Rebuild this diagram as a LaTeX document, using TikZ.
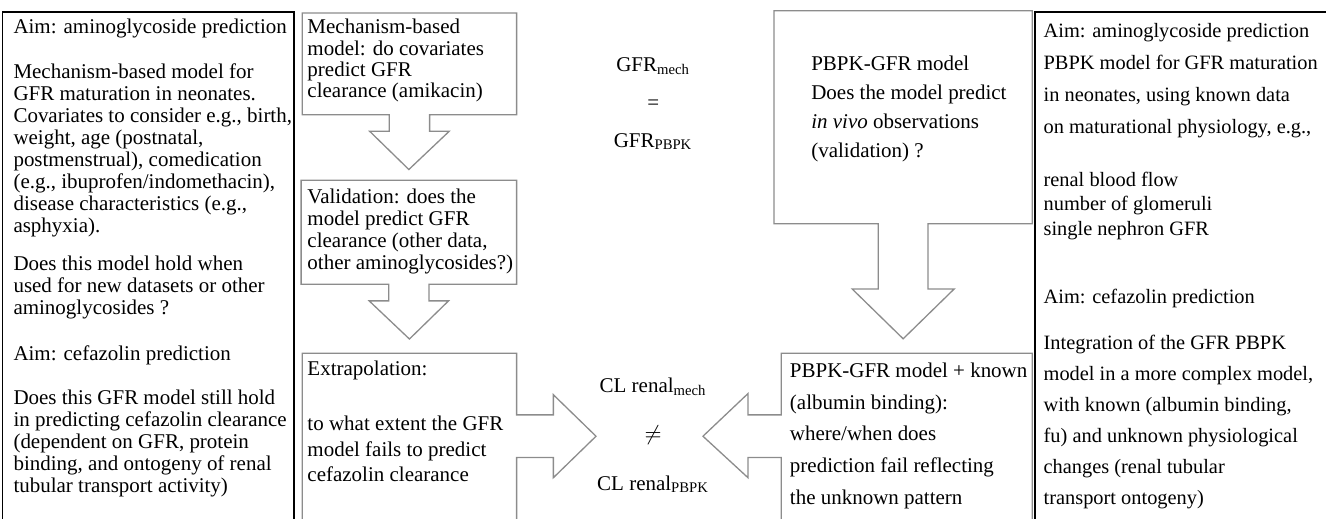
\documentclass[tikz,border=0pt]{standalone}
\usepackage{fontspec}
\setmainfont{Liberation Serif}
\usetikzlibrary{calc}
\definecolor{boxgray}{HTML}{8C8C8C}

\begin{document}
\begin{tikzpicture}[x=0.5pt,y=-0.5pt,
   boxline/.style={draw=boxgray,line width=0.55pt},
   panel/.style={draw=black,line width=0.7pt},
   area/.style={rectangle,inner sep=0pt,anchor=north west},
   txt/.style={anchor=base west,inner sep=0pt,align=left,font={\fontsize{8.85}{#1}\selectfont\lineskiplimit=-\maxdimen}},
   txt/.default=9.25pt,
   rtxt/.style={anchor=base west,inner sep=0pt,align=left,font={\fontsize{8.6}{#1}\selectfont\lineskiplimit=-\maxdimen}},
   rtxt/.default=13.5pt,
   eq/.style={anchor=base,inner sep=0pt,font=\fontsize{8.85}{10}\selectfont}]
  \useasboundingbox (0,0) rectangle (1118.6,437);
  \clip (0,0) rectangle (1118.6,437);
  % box areas
  \node[area,minimum width=122.5pt,minimum height=260pt] (mechpanel) at (2,10) {};
  \node[area,minimum width=90pt,minimum height=42.5pt] (mech) at (255,11) {};
  \node[area,minimum width=90.5pt,minimum height=43.5pt] (valid) at (254,152) {};
  \node[area,minimum width=90pt,minimum height=115pt] (extrap) at (255,298) {};
  \node[area,minimum width=108.5pt,minimum height=89.5pt] (pbpk) at (653,9) {};
  \node[area,minimum width=105.5pt,minimum height=115pt] (known) at (659,298) {};
  \node[area,minimum width=230pt,minimum height=260pt] (pbpkpanel) at (873,10) {};
  % side panels
  \draw[panel] (mechpanel.south west) |- (mechpanel.north east) -- (mechpanel.south east);
  \draw[panel] (pbpkpanel.south west) |- (pbpkpanel.north east) -- (pbpkpanel.south east);
  % boxes with block arrows
  \draw[boxline] ($(mech.south)+(-17,0)$) -- (mech.south west) |- (mech.north east) -- (mech.south east) -- ($(mech.south)+(17,0)$) -- ++(0,14) -- ++(16.5,0) -- ($(valid.north)+(0,-9)$) -- ($(mech.south)+(-33.5,14)$) -- ++(16.5,0) -- cycle;
  \draw[boxline] ($(valid.south)+(-17,0)$) -- (valid.south west) |- (valid.north east) -- (valid.south east) -- ($(valid.south)+(17,0)$) -- ++(0,14) -- ++(16.5,0) -- ($(extrap.north)+(0,-12)$) -- ($(valid.south)+(-33.5,14)$) -- ++(16.5,0) -- cycle;
  \draw[boxline] (extrap.south west) |- (extrap.north east) -- ++(0,52) -- ++(31,0) -- ++(0,-17) -- ++(36,35) -- ++(-36,35) -- ++(0,-17) -- ++(-31,0) -- (extrap.south east);
  \draw[boxline] ($(pbpk.south)+(-21,0)$) -- (pbpk.south west) |- (pbpk.north east) -- (pbpk.south east) -- ($(pbpk.south)+(21,0)$) -- ++(0,55) -- ++(22,0) -- ($(pbpk.south)+(0,97)$) -- ($(pbpk.south)+(-43,55)$) -- ++(22,0) -- cycle;
  \draw[boxline] (known.south east) |- (known.north west) -- ++(0,52) -- ++(-28,0) -- ++(0,-18) -- ++(-38,36) -- ++(38,35) -- ++(0,-17) -- ++(28,0) -- (known.south west);
  % left panel
  \node[txt] (lAim) at (11,28.5) {Aim: aminoglycoside prediction};
  \node[txt] (lMech) at (11,196) {Mechanism-based model for\\GFR maturation in neonates.\\Covariates to consider e.g., birth,\\weight, age (postnatal,\\postmenstrual), comedication\\(e.g., ibuprofen/indomethacin),\\disease characteristics (e.g.,\\asphyxia).};
  \node[txt] (lHold) at (11,265.5) {Does this model hold when\\used for new datasets or other\\aminoglycosides ?};
  \node[txt] (lAimB) at (11,304.5) {Aim: cefazolin prediction};
  \node[txt] (lCef) at (11,415.5) {Does this GFR model still hold\\in predicting cefazolin clearance\\(dependent on GFR, protein\\binding, and ontogeny of renal\\tubular transport activity)};
  % mechanism column
  \node[txt=9pt] (tMech) at (259,82.5) {Mechanism-based\\model: do covariates\\predict GFR\\clearance (amikacin)};
  \node[txt=9.35pt] (tValid) at (259,227.5) {Validation: does the\\model predict GFR\\clearance (other data,\\other aminoglycosides?)};
  \node[txt] (tExtrap) at (259,316.5) {Extrapolation:};
  \node[txt=10.75pt] (tFail) at (259,406.5) {to what extent the GFR\\model fails to predict\\cefazolin clearance};
  % middle
  \node[eq] (gfrMech) at (551,60.5) {GFR\textsubscript{mech}};
  \node[eq] (gfrEq) at (551,92.5) {=};
  \node[eq] (gfrPbpk) at (551,124.5) {GFR\textsubscript{PBPK}};
  \node[eq] (clMech) at (551,331.5) {CL renal\textsubscript{mech}};
  \node[eq] (clNeq) at (551,371.5) {$\neq$};
  \node[eq] (clPbpk) at (551,413.5) {CL renal\textsubscript{PBPK}};
  % PBPK column
  \node[txt=12.2pt] (tPbpk) at (684,132.5) {PBPK-GFR model\\Does the model predict\\\textit{in vivo} observations\\(validation) ?};
  \node[txt=13.4pt] (tKnown) at (666,425.5) {PBPK-GFR model + known\\(albumin binding):\\where/when does\\prediction fail reflecting\\the unknown pattern};
  % right panel
  \node[rtxt] (rAim) at (880,113) {Aim: aminoglycoside prediction\\PBPK model for GFR maturation\\in neonates, using known data\\on maturational physiology, e.g.,};
  \node[rtxt=10.5pt] (rPhys) at (880,199) {renal blood flow\\number of glomeruli\\single nephron GFR};
  \node[rtxt] (rAimB) at (880,256) {Aim: cefazolin prediction};
  \node[rtxt=13.15pt] (rInteg) at (880,426) {Integration of the GFR PBPK\\model in a more complex model,\\with known (albumin binding,\\fu) and unknown physiological\\changes (renal tubular\\transport ontogeny)};
\end{tikzpicture}
\end{document}
